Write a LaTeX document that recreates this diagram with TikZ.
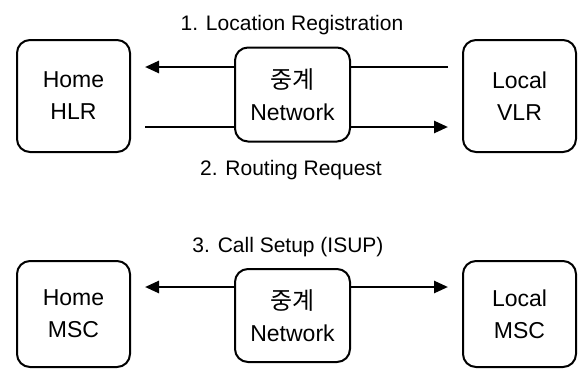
\documentclass[tikz,border=0pt]{standalone}
\usepackage{fontspec}
\setmainfont{Liberation Sans}
\newfontfamily\kr{Noto Sans CJK KR}
\usetikzlibrary{arrows.meta}
\tikzset{
  box/.style={draw, line width=2pt, rounded corners=13pt, inner sep=0pt,
    align=center, font=\fontsize{23}{32}\selectfont},
  side/.style={box, minimum width=113pt, minimum height=112pt},
  mid/.style={box, minimum width=115pt, minimum height=94pt},
  conn/.style={line width=2.6pt},
  arr/.style={conn, -{Triangle[length=14pt,width=12pt]}},
  lbl/.style={font=\fontsize{21}{24}\selectfont, inner sep=0pt}
}
\begin{document}
\begin{tikzpicture}[x=1pt,y=-1pt]
\useasboundingbox[fill=white] (0,0) rectangle (578,368);
% top row
\node[side] (HLR) at (73.5,96) {Home\\HLR};
\node[side] (VLR) at (519.5,96) {Local\\VLR};
\node[mid] (N1) at (292.5,94.5) {{\kr\fontsize{24}{32}\selectfont 중계}\\Network};
% bottom row
\node[side, minimum height=106pt] (HMSC) at (73.5,314) {Home\\MSC};
\node[side, minimum height=106pt] (LMSC) at (519.5,314) {Local\\MSC};
\node[mid, minimum height=93pt] (N2) at (292.5,315.5) {{\kr\fontsize{24}{32}\selectfont 중계}\\Network};
% labels
\node[lbl] (L1) at (292,25) {1. Location Registration};
\node[lbl] (L2) at (291,170) {2. Routing Request};
\node[lbl] (L3) at (288,247) {3. Call Setup (ISUP)};
% free ends
\coordinate (h1) at (145,67);
\coordinate (v1) at (448,67);
\coordinate (h2) at (145,127);
\coordinate (v2) at (448,127);
\coordinate (h3) at (145,287);
\coordinate (v3) at (448,287);
% connectors
\draw[conn] (v1) -- (N1.east |- v1);
\draw[arr] (N1.west |- h1) -- (h1);
\draw[conn] (h2) -- (N1.west |- h2);
\draw[arr] (N1.east |- v2) -- (v2);
\draw[arr] (N2.west |- h3) -- (h3);
\draw[arr] (N2.east |- v3) -- (v3);
\end{tikzpicture}
\end{document}
